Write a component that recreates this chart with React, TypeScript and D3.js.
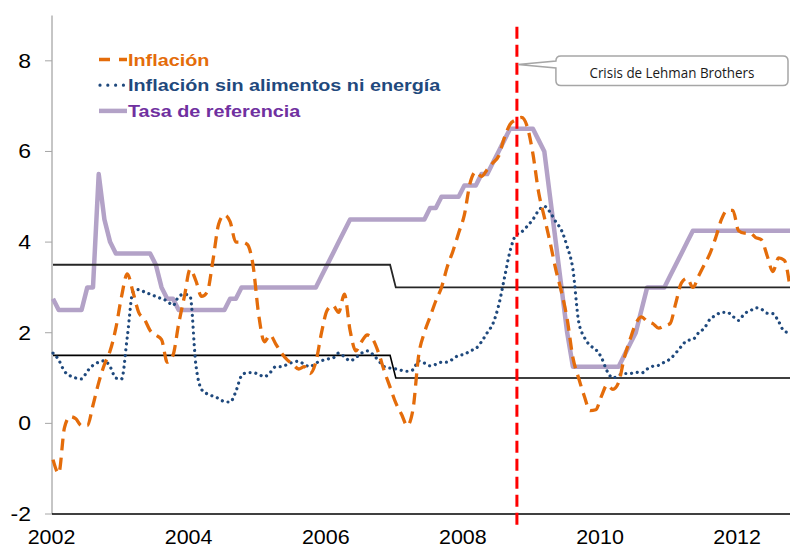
import React from 'react';
import * as d3 from 'd3';

// monthly series, Jan 2002 .. Oct 2012
const startYear = 2002;
const yearTicks = [2002, 2004, 2006, 2008, 2010, 2012];
const valueTicks = [-2, 0, 2, 4, 6, 8];

const inflacion = [
  -0.8, -1.1, -0.1, 0.15, 0.1, -0.05, -0.05, 0.4, 0.9, 1.3,
  1.6, 2.1, 2.8, 3.3, 2.9, 2.45, 2.3, 2.05, 1.95, 1.85,
  1.35, 1.5, 2.2, 2.8, 3.4, 3.15, 2.8, 2.9, 3.6, 4.4,
  4.6, 4.45, 4.0, 4.0, 3.95, 3.5, 2.4, 1.8, 1.95, 1.75,
  1.55, 1.4, 1.3, 1.2, 1.25, 1.1, 1.35, 2.0, 2.5, 2.6,
  2.45, 2.85, 2.05, 1.6, 1.8, 1.95, 1.85, 1.55, 1.15, 0.8,
  0.45, 0.2, -0.05, 0.3, 1.5, 2.0, 2.35, 2.7, 3.0, 3.45,
  3.8, 4.2, 4.6, 5.3, 5.55, 5.45, 5.6, 5.75, 5.9, 6.3,
  6.6, 6.7, 6.75, 6.55, 5.95, 5.1, 4.55, 4.0, 3.4, 2.9,
  2.3, 1.45, 1.0, 0.6, 0.28, 0.3, 0.6, 0.85, 0.75, 0.9,
  1.45, 1.85, 2.2, 2.35, 2.25, 2.2, 2.1, 2.15, 2.2, 2.65,
  3.1, 3.2, 3.0, 3.25, 3.5, 3.75, 4.1, 4.5, 4.7, 4.7,
  4.25, 4.2, 4.2, 4.1, 4.05, 3.7, 3.35, 3.65, 3.6, 3.0,
];

const inflacionSinAlimentos = [
  1.55, 1.4, 1.15, 1.05, 1.0, 0.98, 1.15, 1.28, 1.35, 1.38,
  1.25, 1.0, 0.98, 1.9, 2.9, 2.95, 2.9, 2.85, 2.8, 2.75,
  2.7, 2.6, 2.8, 2.85, 2.8, 1.3, 0.75, 0.65, 0.6, 0.55,
  0.48, 0.47, 0.7, 1.05, 1.12, 1.12, 1.08, 1.03, 1.12, 1.25,
  1.25, 1.3, 1.35, 1.37, 1.3, 1.25, 1.33, 1.38, 1.42, 1.44,
  1.55, 1.47, 1.38, 1.45, 1.55, 1.6, 1.52, 1.38, 1.25, 1.22,
  1.2, 1.17, 1.15, 1.18, 1.38, 1.33, 1.27, 1.3, 1.35, 1.35,
  1.42, 1.5, 1.52, 1.6, 1.65, 1.8, 2.0, 2.2, 2.6, 3.2,
  3.8, 4.15, 4.22, 4.35, 4.5, 4.7, 4.79, 4.66, 4.45, 4.26,
  3.9, 3.4, 2.25, 1.9, 1.72, 1.63, 1.45, 1.15, 1.0, 1.06,
  1.1, 1.1, 1.13, 1.11, 1.2, 1.26, 1.28, 1.35, 1.42, 1.55,
  1.7, 1.83, 1.85, 2.0, 2.1, 2.3, 2.38, 2.45, 2.45, 2.36,
  2.27, 2.42, 2.48, 2.55, 2.52, 2.43, 2.42, 2.25, 2.03, 2.0,
];

const tasaReferencia = [
  2.75, 2.5, 2.5, 2.5, 2.5, 2.5, 3.0, 3.0, 5.5, 4.5,
  4.0, 3.75, 3.75, 3.75, 3.75, 3.75, 3.75, 3.75, 3.5, 3.0,
  2.75, 2.75, 2.5, 2.5, 2.5, 2.5, 2.5, 2.5, 2.5, 2.5,
  2.5, 2.75, 2.75, 3.0, 3.0, 3.0, 3.0, 3.0, 3.0, 3.0,
  3.0, 3.0, 3.0, 3.0, 3.0, 3.0, 3.0, 3.25, 3.5, 3.75,
  4.0, 4.25, 4.5, 4.5, 4.5, 4.5, 4.5, 4.5, 4.5, 4.5,
  4.5, 4.5, 4.5, 4.5, 4.5, 4.5, 4.75, 4.75, 5.0, 5.0,
  5.0, 5.0, 5.25, 5.25, 5.25, 5.5, 5.5, 5.75, 6.0, 6.25,
  6.5, 6.5, 6.5, 6.5, 6.5, 6.25, 6.0, 5.0, 4.0, 3.0,
  2.0, 1.25, 1.25, 1.25, 1.25, 1.25, 1.25, 1.25, 1.25, 1.25,
  1.5, 1.75, 2.0, 2.5, 3.0, 3.0, 3.0, 3.0, 3.25, 3.5,
  3.75, 4.0, 4.25, 4.25, 4.25, 4.25, 4.25, 4.25, 4.25, 4.25,
  4.25, 4.25, 4.25, 4.25, 4.25, 4.25, 4.25, 4.25, 4.25, 4.25,
];

// inflation target band (month index, value)
const bandMonths = [0, 59, 60, 129];
const bandUpper = [3.5, 3.5, 3.0, 3.0];
const bandLower = [1.5, 1.5, 1.0, 1.0];

const lehmanMonth = 81.2;
const lehmanSpan = [8.75, -2.35];
const calloutValue = 7.92;
const calloutLabel = 'Crisis de Lehman Brothers';

const legendItems = [
  { label: 'Inflación', color: '#E46C0A', text: '#E46C0A', kind: 'dash' },
  { label: 'Inflación sin alimentos ni energía', color: '#1F497D', text: '#1F497D', kind: 'dot' },
  { label: 'Tasa de referencia', color: '#B3A2C7', text: '#7030A0', kind: 'solid' },
];

export default function App() {
  const width = 790;
  const height = 547;
  const font = '"Liberation Sans", Arial, sans-serif';

  const x = d3.scaleLinear().domain([0, 129]).range([53, 790]);
  const y = d3.scaleLinear().domain([-2, 9]).range([514, 15.5]);

  const smooth = d3.line<number>()
    .x((_, i) => x(i))
    .y(d => y(d))
    .curve(d3.curveMonotoneX);

  const straight = d3.line<number>()
    .x((_, i) => x(i))
    .y(d => y(d));

  const band = (vals: number[]) =>
    d3.line<number>()
      .x((_, i) => x(bandMonths[i]))
      .y(d => y(d))(vals) || '';

  // callout geometry, anchored on the Lehman line
  const tipX = x(lehmanMonth) + 1;
  const tipY = y(calloutValue);
  const left = tipX + 38;
  const right = width - 2;
  const top = tipY - 8.5;
  const bottom = tipY + 21;
  const r = 5;
  const callout = [
    `M${left + r},${top}`,
    `H${right - r}`,
    `Q${right},${top} ${right},${top + r}`,
    `V${bottom - r}`,
    `Q${right},${bottom} ${right - r},${bottom}`,
    `H${left + r}`,
    `Q${left},${bottom} ${left},${bottom - r}`,
    `V${tipY + 3.5}`,
    `L${tipX},${tipY}`,
    `L${left},${tipY - 3.5}`,
    `V${top + r}`,
    `Q${left},${top} ${left + r},${top}`,
    'Z',
  ].join(' ');

  return (
    <svg
      width={width}
      height={height}
      style={{ position: 'absolute', left: 0, top: 0, background: '#fff' }}
      fontFamily={font}
    >
      <defs>
        <clipPath id="plot">
          <rect x={40} y={0} width={width - 40} height={height} />
        </clipPath>
      </defs>

      {/* y axis */}
      <line x1={52} x2={52} y1={y(9)} y2={y(-2)} stroke="#8C8C8C" strokeWidth={1} />
      {valueTicks.map(v => (
        <g key={v}>
          <line x1={45} x2={52} y1={y(v)} y2={y(v)} stroke="#A6A6A6" strokeWidth={1} />
          <text
            transform={`translate(31,${y(v) + 7}) scale(1.15,1)`}
            textAnchor="end"
            fontSize={20}
            fill="#000"
          >
            {v}
          </text>
        </g>
      ))}

      {/* x axis */}
      <line x1={52} x2={width} y1={y(-2)} y2={y(-2)} stroke="#000" strokeWidth={1.5} />
      {yearTicks.map(yr => (
        <text
          key={yr}
          transform={`translate(${x((yr - startYear) * 12) - 1.5},543.5) scale(1.1,1)`}
          textAnchor="middle"
          fontSize={19.5}
          fill="#000"
        >
          {yr}
        </text>
      ))}

      <g clipPath="url(#plot)">
        <path d={straight(tasaReferencia) || ''} fill="none" stroke="#B3A2C7" strokeWidth={4.5} strokeLinejoin="round" />
        <path d={band(bandUpper)} fill="none" stroke="#262626" strokeWidth={1.8} />
        <path d={band(bandLower)} fill="none" stroke="#000" strokeWidth={1.6} />
        <path
          d={smooth(inflacionSinAlimentos) || ''}
          fill="none"
          stroke="#1F497D"
          strokeWidth={3.2}
          strokeDasharray="0.01 5.8"
          strokeLinecap="round"
        />
        <path
          d={smooth(inflacion) || ''}
          fill="none"
          stroke="#E46C0A"
          strokeWidth={3.3}
          strokeDasharray="12 7"
        />
      </g>

      {/* Lehman */}
      <line
        x1={x(lehmanMonth)}
        x2={x(lehmanMonth)}
        y1={y(lehmanSpan[0])}
        y2={y(lehmanSpan[1])}
        stroke="#FF0000"
        strokeWidth={3}
        strokeDasharray="12 6"
      />
      <path d={callout} fill="#fff" stroke="#A6A6A6" strokeWidth={1.5} />
      <text
        x={(left + right) / 2}
        y={tipY + 13.5}
        textAnchor="middle"
        fontFamily='"Open Sans", sans-serif'
        fontSize={15}
        textLength={165}
        lengthAdjust="spacingAndGlyphs"
        fill="#1a1a1a"
      >
        {calloutLabel}
      </text>

      {/* legend */}
      {legendItems.map((item, i) => {
        const base = 65.5 + i * 25.7;
        const ly = base - 6;
        return (
          <g key={item.label}>
            {item.kind === 'dash' && (
              <line x1={99} x2={127} y1={ly} y2={ly} stroke={item.color} strokeWidth={3.3} strokeDasharray="11 9" />
            )}
            {item.kind === 'dot' && (
              <line x1={100} x2={124} y1={ly} y2={ly} stroke={item.color} strokeWidth={3.2} strokeDasharray="0.01 7.8" strokeLinecap="round" />
            )}
            {item.kind === 'solid' && (
              <line x1={99} x2={127} y1={ly} y2={ly} stroke={item.color} strokeWidth={4.5} />
            )}
            <text
              transform={`translate(128,${base}) scale(1.2,1)`}
              fontSize={16.5}
              fontWeight="bold"
              fill={item.text}
            >
              {item.label}
            </text>
          </g>
        );
      })}
    </svg>
  );
}
